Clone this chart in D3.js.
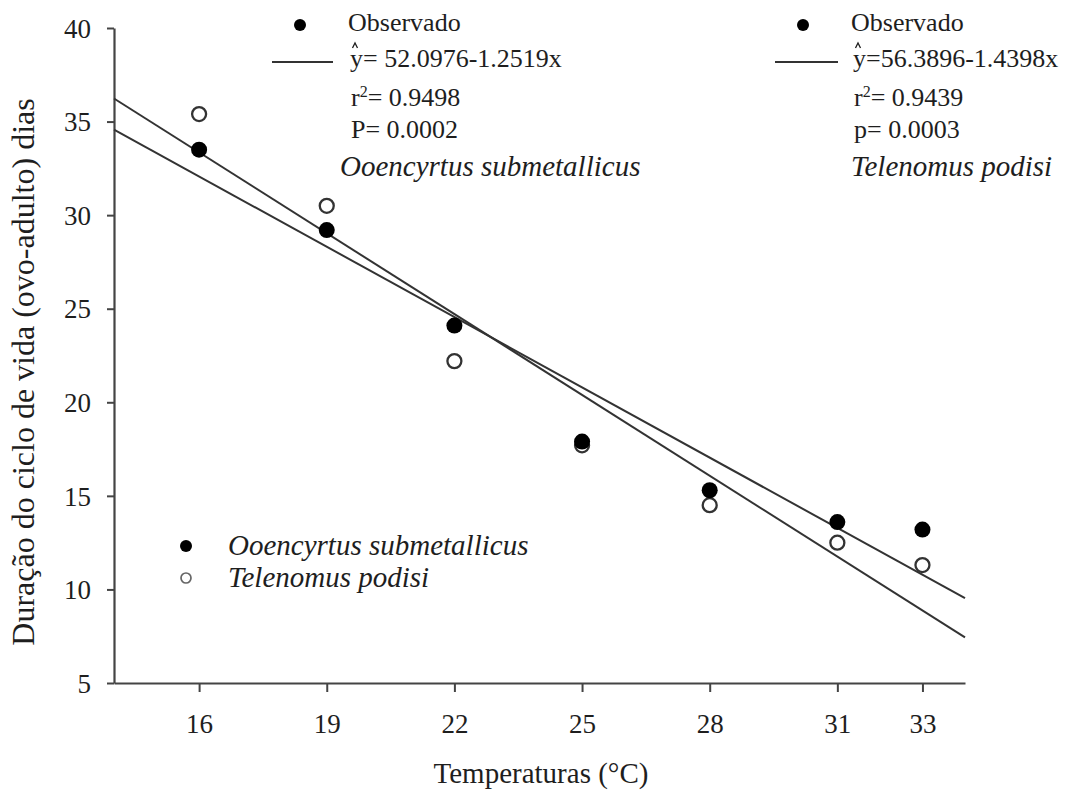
<!DOCTYPE html>
<html>
<head>
<meta charset="utf-8">
<script src="https://cdnjs.cloudflare.com/ajax/libs/d3/7.8.5/d3.min.js"></script>
<style>
  body { margin: 0; background: #fff; }
  svg { display: block; font-family: "Liberation Serif", "Times New Roman", serif; }
</style>
</head>
<body>
<div id="chart"></div>
<script>
var temps = [16, 19, 22, 25, 28, 31, 33];
var ooencyrtus = [33.5, 29.2, 24.1, 17.9, 15.3, 13.6, 13.2];
var telenomus = [35.4, 30.5, 22.2, 17.7, 14.5, 12.5, 11.3];
var yTicks = [5, 10, 15, 20, 25, 30, 35, 40];
var fitO = [52.0976, -1.2519];
var fitT = [56.3896, -1.4398];

var width = 1087, height = 790;
var x = d3.scaleLinear().domain([14, 34]).range([114, 965]);
var y = d3.scaleLinear().domain([5, 40]).range([683, 28]);

var svg = d3.select("#chart").append("svg")
  .attr("width", width)
  .attr("height", height);

var ink = "#1e1e1e";
var serif = '"Liberation Serif", "Times New Roman", serif';

// axes
var gx = svg.append("g")
  .attr("transform", "translate(0," + y(5) + ")")
  .call(d3.axisBottom(x).tickValues(temps).tickSize(9).tickPadding(22).tickSizeOuter(0));
var gy = svg.append("g")
  .attr("transform", "translate(" + x(14) + ",0)")
  .call(d3.axisLeft(y).tickValues(yTicks).tickSize(7).tickPadding(16).tickSizeOuter(0));

[gx, gy].forEach(function(g) {
  g.attr("font-family", serif);
  g.select(".domain").attr("stroke", "#444").attr("stroke-width", 2.2);
  g.selectAll(".tick line").attr("stroke", "#444").attr("stroke-width", 2);
  g.selectAll(".tick text")
    .attr("font-family", serif)
    .attr("font-size", 27)
    .attr("fill", ink);
});
gy.selectAll(".tick text").attr("dy", "0.34em");

// axis titles
svg.append("text")
  .attr("x", 541).attr("y", 783)
  .attr("text-anchor", "middle")
  .attr("font-size", 29)
  .attr("fill", ink)
  .text("Temperaturas (°C)");

svg.append("text")
  .attr("transform", "translate(34,372) rotate(-90)")
  .attr("text-anchor", "middle")
  .attr("font-size", 32)
  .attr("fill", ink)
  .text("Duração do ciclo de vida (ovo-adulto) dias");

// regression lines
[fitO, fitT].forEach(function(f) {
  svg.append("line")
    .attr("x1", x(14)).attr("y1", y(f[0] + f[1] * 14))
    .attr("x2", x(34)).attr("y2", y(f[0] + f[1] * 34))
    .attr("stroke", "#333").attr("stroke-width", 2);
});

// points
svg.append("g").selectAll("circle")
  .data(telenomus)
  .enter().append("circle")
  .attr("cx", function(d, i) { return x(temps[i]); })
  .attr("cy", function(d) { return y(d); })
  .attr("r", 7)
  .attr("fill", "#fff")
  .attr("stroke", "#333")
  .attr("stroke-width", 2.3);

svg.append("g").selectAll("circle")
  .data(ooencyrtus)
  .enter().append("circle")
  .attr("cx", function(d, i) { return x(temps[i]); })
  .attr("cy", function(d) { return y(d); })
  .attr("r", 8)
  .attr("fill", "#000");

// top legends
function fitLegend(lx, dotX, lineX1, lineX2, eq, r2, p, pLabel, species, speciesX) {
  var g = svg.append("g").attr("font-size", 26).attr("fill", ink);
  g.append("circle").attr("cx", dotX).attr("cy", 25).attr("r", 6).attr("fill", "#000");
  g.append("text").attr("x", lx).attr("y", 31).text("Observado");
  g.append("line").attr("x1", lineX1).attr("x2", lineX2).attr("y1", 62).attr("y2", 62)
    .attr("stroke", "#333").attr("stroke-width", 1.8);
  // hat over y
  g.append("path")
    .attr("d", "M" + (lx + 4.5) + ",48 L" + (lx + 7) + ",43 L" + (lx + 9.5) + ",48")
    .attr("fill", "none").attr("stroke", ink).attr("stroke-width", 1.3);
  g.append("text").attr("x", lx + 2).attr("y", 67).text("y" + eq);
  var t = g.append("text").attr("x", lx + 3).attr("y", 106);
  t.append("tspan").text("r");
  t.append("tspan").attr("font-size", 16).attr("dy", -9).text("2");
  t.append("tspan").attr("dy", 9).text("= " + r2);
  g.append("text").attr("x", lx + 3).attr("y", 138).text(pLabel + "= " + p);
  g.append("text").attr("x", speciesX).attr("y", 176)
    .attr("font-style", "italic").attr("font-size", 29).text(species);
}
fitLegend(348, 300, 272, 333, "= 52.0976-1.2519x", "0.9498", "0.0002", "P", "Ooencyrtus submetallicus", 340);
fitLegend(851, 803, 775, 838, "=56.3896-1.4398x", "0.9439", " 0.0003", "p", "Telenomus podisi", 851);

// bottom legend
var leg = svg.append("g").attr("font-size", 29).attr("font-style", "italic").attr("fill", ink);
leg.append("circle").attr("cx", 186).attr("cy", 546).attr("r", 6).attr("fill", "#000");
leg.append("text").attr("x", 228).attr("y", 555).text("Ooencyrtus submetallicus");
leg.append("circle").attr("cx", 186).attr("cy", 578).attr("r", 5).attr("fill", "#fff")
  .attr("stroke", "#666").attr("stroke-width", 1.7);
leg.append("text").attr("x", 228).attr("y", 587).text("Telenomus podisi");
</script>
</body>
</html>
